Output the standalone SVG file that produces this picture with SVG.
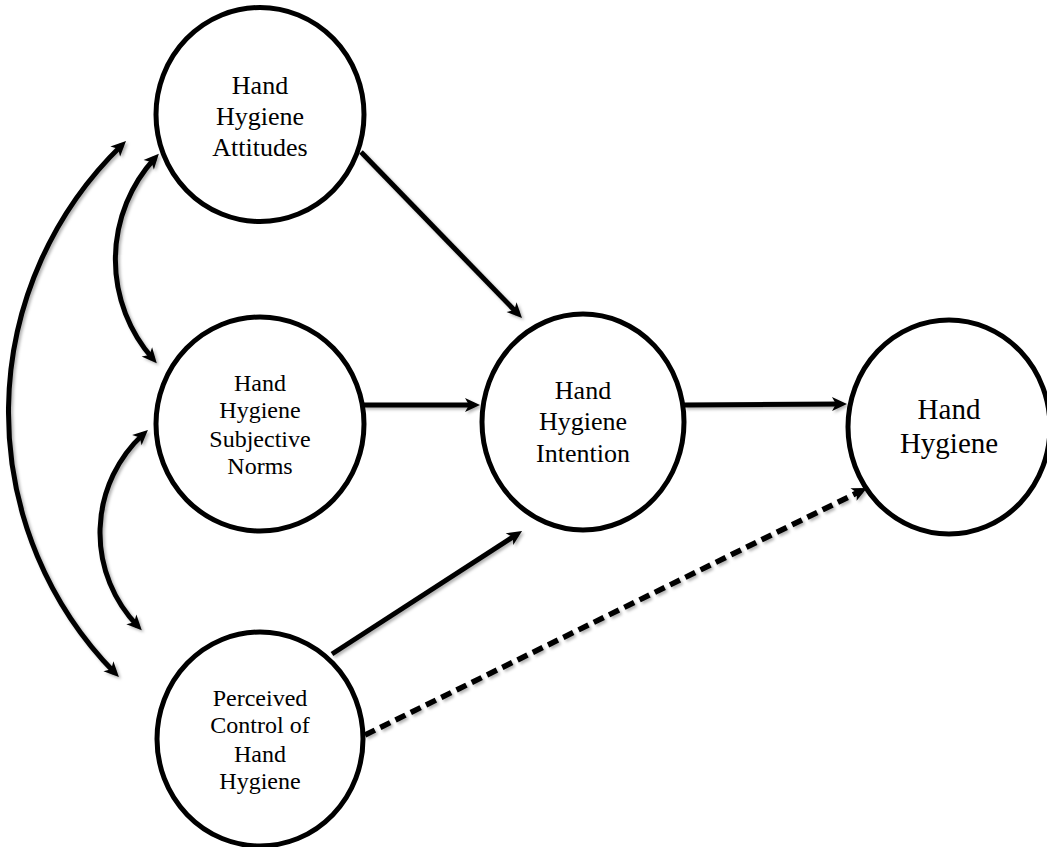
<svg xmlns="http://www.w3.org/2000/svg" width="1047" height="847" viewBox="0 0 1047 847">
<style>
.node ellipse{fill:#fff;stroke:#000;stroke-width:5}
.node text{font-family:"Liberation Serif","Times New Roman",serif;fill:#000;text-anchor:middle}
.c{fill:none;stroke:#000;stroke-width:5}
.dash{stroke-dasharray:11 6;stroke-width:5.5}
</style>
<defs>
<marker id="ah" markerUnits="userSpaceOnUse" viewBox="-12 -10 20 20" markerWidth="20" markerHeight="20" refX="0" refY="0" orient="auto-start-reverse">
<path d="M6,0 L-9,-7 L-5,0 L-9,7 Z" fill="#000"/>
</marker>
<filter id="sh" x="-10%" y="-10%" width="120%" height="120%">
<feDropShadow dx="2" dy="2" stdDeviation="1.5" flood-color="#000" flood-opacity="0.3"/>
</filter>
</defs>
<g id="connectors" filter="url(#sh)">
<path class="c" marker-start="url(#ah)" marker-end="url(#ah)" d="M114.7,672.7 A372,372 0 0 1 121.7,145.2"/>
<path class="c" marker-start="url(#ah)" marker-end="url(#ah)" d="M152.8,358.7 A150,150 0 0 1 154.8,158.2"/>
<path class="c" marker-start="url(#ah)" marker-end="url(#ah)" d="M137.6,625.9 A134,134 0 0 1 143.5,434"/>
<path class="c" marker-end="url(#ah)" d="M361,152 L517.8,313.7"/>
<path class="c" marker-end="url(#ah)" d="M363,405 L474,405"/>
<path class="c" marker-end="url(#ah)" d="M332,654 L517,534.3"/>
<path class="c" marker-end="url(#ah)" d="M684,405 L841,404"/>
<path class="c dash" marker-end="url(#ah)" d="M365,735 L861.6,490.6"/>
</g>
<g id="attitudes" class="node">
<ellipse cx="260" cy="114.5" rx="104" ry="107"/>
<text font-size="26"><tspan x="260" y="94">Hand</tspan><tspan x="260" y="125">Hygiene</tspan><tspan x="260" y="156">Attitudes</tspan></text>
</g>
<g id="norms" class="node">
<ellipse cx="260" cy="424" rx="104" ry="107"/>
<text font-size="24"><tspan x="260" y="391">Hand</tspan><tspan x="260" y="418">Hygiene</tspan><tspan x="260" y="447">Subjective</tspan><tspan x="260" y="474">Norms</tspan></text>
</g>
<g id="control" class="node">
<ellipse cx="260" cy="739" rx="103" ry="107"/>
<text font-size="24"><tspan x="260" y="706">Perceived</tspan><tspan x="260" y="733">Control of</tspan><tspan x="260" y="762">Hand</tspan><tspan x="260" y="789">Hygiene</tspan></text>
</g>
<g id="intention" class="node">
<ellipse cx="583" cy="422" rx="101" ry="108"/>
<text font-size="26"><tspan x="583" y="399">Hand</tspan><tspan x="583" y="430">Hygiene</tspan><tspan x="583" y="462">Intention</tspan></text>
</g>
<g id="hygiene" class="node">
<ellipse cx="949" cy="427" rx="101" ry="107"/>
<text font-size="29"><tspan x="949" y="419">Hand</tspan><tspan x="949" y="453">Hygiene</tspan></text>
</g>
</svg>
